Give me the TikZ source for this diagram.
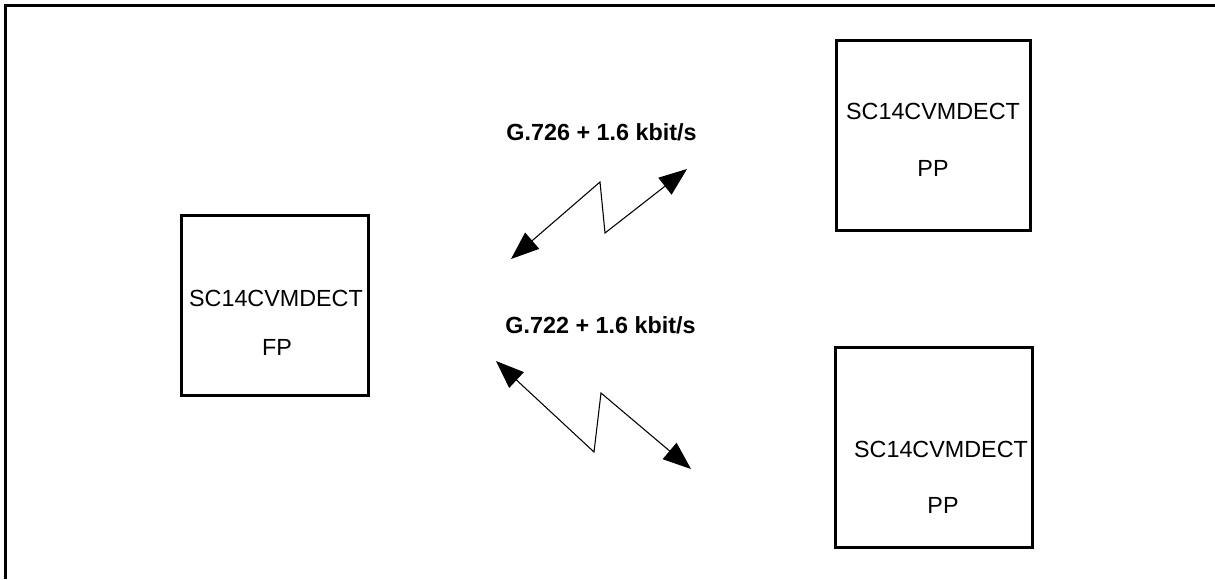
\documentclass[tikz,border=0pt]{standalone}
\usepackage{fontspec}
\setmainfont{Liberation Sans}
\usetikzlibrary{arrows.meta}

\begin{document}
\begin{tikzpicture}[x=0.75pt,y=-0.75pt,
    unitbox/.style={draw,line width=2.25pt,inner sep=0pt},
    unitname/.style={anchor=base,inner sep=0pt,font=\fontsize{17.5}{21}\selectfont},
    linklabel/.style={anchor=base,inner sep=0pt,font=\fontsize{17.5}{21}\selectfont\bfseries},
    radiolink/.style={line width=0.8pt,{Triangle[length=21pt,width=16pt]}-{Triangle[length=21pt,width=16pt]}}]
      \useasboundingbox (0,0) rectangle (1215,579);
      \draw[line width=1.7pt] (5.5,579) -- (5.5,5.5) -- (1215,5.5);

      \node[unitbox,minimum width=140.25pt,minimum height=135pt] (fp) at (274.5,305) {};
      \node[unitbox,minimum width=145.5pt,minimum height=142.5pt] (pp1) at (933,135) {};
      \node[unitbox,minimum width=147.75pt,minimum height=150pt] (pp2) at (933.5,447) {};

      \node[unitname] (fpname) at (276,306) {SC14CVMDECT};
      \node[unitname] (fptype) at (277,355) {FP};
      \node[unitname] (pp1name) at (933,119) {SC14CVMDECT};
      \node[unitname] (pp1type) at (933,176) {PP};
      \node[unitname] (pp2name) at (941,457) {SC14CVMDECT};
      \node[unitname] (pp2type) at (943,513) {PP};

      \node[linklabel] (g726) at (601.5,140) {G.726 + 1.6 kbit/s};
      \node[linklabel] (g722) at (600.5,333) {G.722 + 1.6 kbit/s};

      \coordinate (a1) at (511,259);
      \coordinate (a2) at (600,182);
      \coordinate (a3) at (605,233);
      \coordinate (a4) at (687,169);
      \draw[radiolink] (a1) -- (a2) -- (a3) -- (a4);

      \coordinate (b1) at (496,361);
      \coordinate (b2) at (594,452);
      \coordinate (b3) at (601,393);
      \coordinate (b4) at (691,469);
      \draw[radiolink] (b1) -- (b2) -- (b3) -- (b4);
    \end{tikzpicture}
\end{document}
